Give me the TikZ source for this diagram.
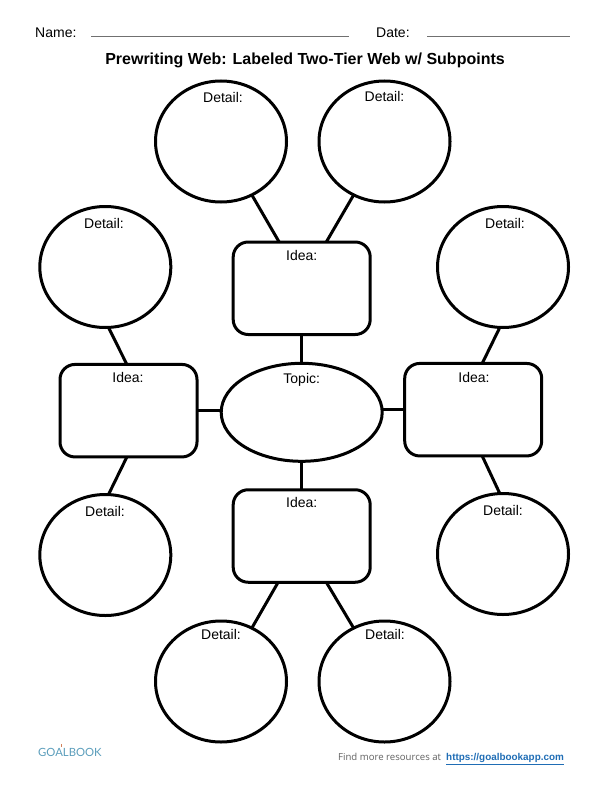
\documentclass[tikz,border=0pt]{standalone}
\usepackage{fontspec}
\setmainfont{Liberation Sans}
\newfontfamily\footfont{Open Sans}
\newfontfamily\logofont{Lato}
\usetikzlibrary{shapes.geometric,calc}
\definecolor{webGreyLine}{HTML}{707070}
\definecolor{webFootText}{HTML}{606060}
\definecolor{webLinkBlue}{HTML}{1F6DB5}
\definecolor{webLogoBlue}{HTML}{5A9DBB}
\definecolor{webLogoRed}{HTML}{D0805A}
\tikzset{
  webshape/.style={draw=black, line width=3pt, inner sep=0pt, outer sep=0pt},
  detailbub/.style={webshape, ellipse, minimum width=131pt, minimum height=121pt},
  ideabox/.style={webshape, rectangle, rounded corners=15pt, minimum width=137pt, minimum height=92.5pt},
  topicbub/.style={webshape, ellipse, minimum width=161pt, minimum height=98pt},
  weblink/.style={black, line width=3pt},
  webtext/.style={anchor=base, font=\fontsize{14}{16}\selectfont},
}

\begin{document}
\begin{tikzpicture}[x=1pt, y=-1pt]
\useasboundingbox (0,0) rectangle (612,792);

% --- HEADER ---
\node[anchor=base west, inner sep=0pt, font=\fontsize{14}{16}\selectfont] (nameLbl) at (35,37.5) {Name:};
\node[anchor=base west, inner sep=0pt, font=\fontsize{14}{16}\selectfont] (dateLbl) at (376,37.5) {Date:};
\draw[webGreyLine, line width=1.8pt] (91,36.5) -- (349,36.5);
\draw[webGreyLine, line width=1.8pt] (427,36.5) -- (570,36.5);
\node[anchor=base, font=\fontsize{16}{18}\selectfont\bfseries] (title) at (305,64.5)
  {Prewriting Web: Labeled Two-Tier Web w/ Subpoints};

% --- DETAIL BUBBLES ---
\foreach \nm/\cx/\cy/\tx/\ty in {dTL/221/141.5/223/97, dTR/384.5/141.5/384.5/96,
    dLU/105.3/267/104/223, dRU/503/267/505/223,
    dLL/105.3/555/105/511, dRL/503/554/503/510,
    dBL/221/681.5/221/634, dBR/384.5/681.5/385/634} {
  \node[detailbub] (\nm) at (\cx,\cy) {};
  \pgfmathsetmacro\by{\ty + 5}
  \node[webtext] (\nm txt) at (\tx,\by) {Detail:};
}

% --- IDEA BOXES ---
\foreach \nm/\cx/\cy/\tx/\ty in {iT/301.7/288.25/301.7/255.7, iL/128.5/410.7/128/377,
    iR/473.2/409.7/474/377, iB/301.7/536/301.7/502.7} {
  \node[ideabox] (\nm) at (\cx,\cy) {};
  \pgfmathsetmacro\by{\ty + 5}
  \node[webtext] (\nm txt) at (\tx,\by) {Idea:};
}

% --- TOPIC ---
\node[topicbub] (topic) at (301.7,412.3) {};
\node[webtext] (topictxt) at (301.7,383) {Topic:};

% --- CONNECTORS ---
\draw[weblink] (dTL.-60) -- (iT.116.4);
\draw[weblink] (dTR.-120) -- (iT.62.6);
\draw[weblink] (dLU.-87) -- (iL.92);
\draw[weblink] (iL.-92) -- (dLL.87);
\draw[weblink] (dRU.-93.5) -- (iR.79.5);
\draw[weblink] (iR.-79.5) -- (dRL.93);
\draw[weblink] (iB.-117.3) -- (dBL.60.3);
\draw[weblink] (iB.-62) -- (dBR.120);
\draw[weblink] (iT.south) -- (topic.north);
\draw[weblink] (topic.south) -- (iB.north);
\draw[weblink] (iL.east) -- (iL.east -| topic.west);
\draw[weblink] (iR.west) -- (iR.west -| topic.east);

% --- FOOTER ---
\node[anchor=base west, inner sep=0pt, font=\fontsize{11.3}{13}\logofont\selectfont, color=webLogoBlue] (logo)
  at (38,756) {GOALBOOK};
\fill[webLogoRed] (60.5,744) rectangle (62,747);
\node[anchor=base west, inner sep=0pt, font=\fontsize{9.6}{11}\footfont\selectfont, color=webFootText] (findTxt)
  at (338,760.5) {Find more resources at};
\node[anchor=base west, inner sep=0pt, font=\fontsize{9.9}{11}\bfseries\selectfont, color=webLinkBlue] (findUrl)
  at (446,760.5) {\underline{https://goalbookapp.com}};

\end{tikzpicture}
\end{document}
